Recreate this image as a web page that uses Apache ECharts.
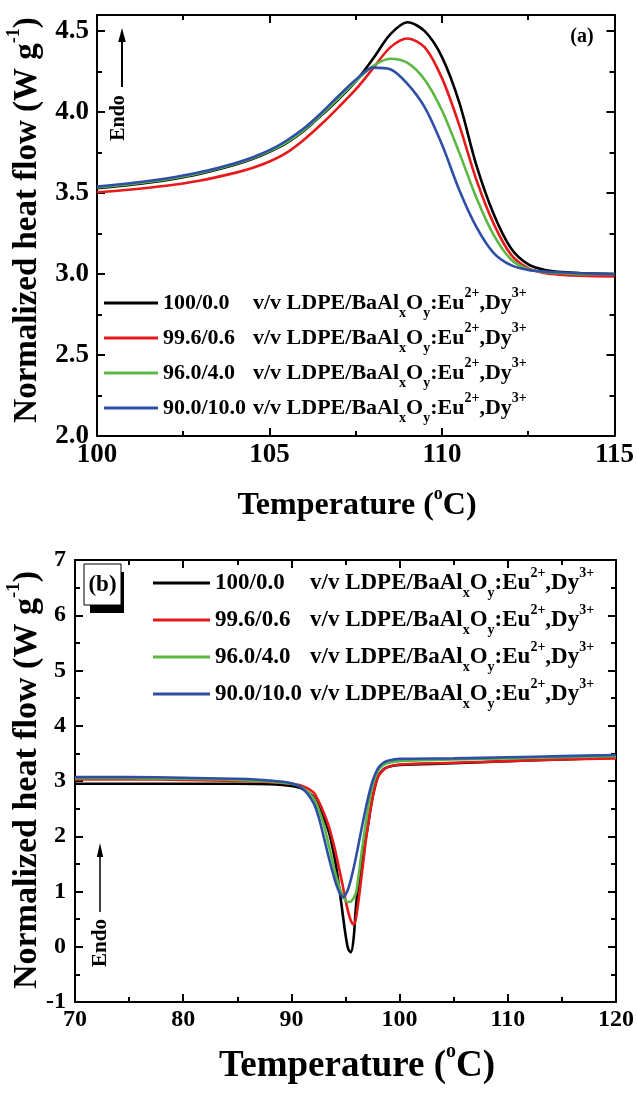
<!DOCTYPE html>
<html>
<head>
<meta charset="utf-8">
<script src="https://cdn.jsdelivr.net/npm/echarts@6/dist/echarts.min.js"></script>
<style>html,body{margin:0;padding:0;background:#fff;}#c{width:637px;height:1096px;}</style>
</head>
<body>
<div id="c"></div>
<script>
// ---------- DATA ----------
const seriesNames = ['100/0.0', '99.6/0.6', '96.0/4.0', '90.0/10.0'];
const seriesColors = ['#000000', '#e8191b', '#5cb843', '#2f4fa6'];

// Panel (a): heating, 100-115 °C
const tempsA = [100, 101, 102, 103, 104, 104.5, 105, 105.5, 106, 106.5, 107, 107.5, 108, 108.5, 109, 109.5, 110, 110.5, 111, 111.5, 112, 112.5, 113, 113.5, 114, 115];
const blackA = [3.53, 3.552, 3.58, 3.62, 3.675, 3.71, 3.755, 3.81, 3.885, 3.98, 4.08, 4.19, 4.33, 4.48, 4.555, 4.50, 4.34, 4.06, 3.67, 3.37, 3.16, 3.06, 3.025, 3.012, 3.006, 3.0];
const redA   = [3.505, 3.522, 3.545, 3.578, 3.625, 3.655, 3.695, 3.75, 3.83, 3.925, 4.03, 4.14, 4.27, 4.40, 4.455, 4.40, 4.21, 3.92, 3.58, 3.31, 3.12, 3.035, 3.005, 2.995, 2.99, 2.985];
const greenA = [3.535, 3.557, 3.585, 3.625, 3.68, 3.715, 3.76, 3.815, 3.89, 3.985, 4.085, 4.19, 4.285, 4.33, 4.305, 4.20, 4.01, 3.75, 3.47, 3.24, 3.09, 3.03, 3.012, 3.005, 3.0, 3.0];
const blueA  = [3.54, 3.562, 3.59, 3.63, 3.685, 3.72, 3.765, 3.825, 3.90, 3.995, 4.10, 4.20, 4.275, 4.265, 4.175, 4.03, 3.80, 3.52, 3.29, 3.13, 3.055, 3.025, 3.015, 3.01, 3.005, 3.0];

// Panel (b): cooling, 70-120 °C
const tempsB = [70, 75, 80, 85, 88, 90, 91, 92, 92.5, 93, 93.5, 94, 94.25, 94.5, 94.75, 95, 95.25, 95.5, 95.75, 96, 96.5, 97, 97.5, 98, 98.5, 99, 100, 105, 110, 115, 120];
const blackB = [2.95, 2.95, 2.95, 2.95, 2.94, 2.91, 2.86, 2.72, 2.55, 2.33, 2.05, 1.60, 1.30, 0.95, 0.58, 0.22, -0.04, -0.10, 0.15, 0.80, 1.55, 2.10, 2.70, 3.08, 3.21, 3.26, 3.29, 3.32, 3.36, 3.39, 3.42];
const redB   = [3.03, 3.03, 3.02, 3.00, 2.98, 2.95, 2.91, 2.80, 2.64, 2.42, 2.15, 1.78, 1.56, 1.33, 1.10, 0.85, 0.63, 0.47, 0.40, 0.55, 1.30, 2.10, 2.70, 3.07, 3.20, 3.26, 3.30, 3.33, 3.36, 3.39, 3.41];
const greenB = [3.05, 3.05, 3.04, 3.02, 2.99, 2.95, 2.88, 2.70, 2.50, 2.20, 1.80, 1.38, 1.20, 1.04, 0.92, 0.84, 0.81, 0.82, 0.88, 1.00, 1.72, 2.40, 2.92, 3.18, 3.29, 3.33, 3.36, 3.39, 3.41, 3.43, 3.45];
const blueB  = [3.07, 3.07, 3.06, 3.04, 3.01, 2.96, 2.87, 2.62, 2.36, 1.98, 1.58, 1.22, 1.07, 0.96, 0.90, 0.94, 1.05, 1.22, 1.42, 1.65, 2.15, 2.62, 3.00, 3.23, 3.33, 3.37, 3.40, 3.41, 3.43, 3.45, 3.47];

const xTicksA = {min: 100, max: 115, interval: 5};
const yTicksA = {min: 2.0, max: 4.6, interval: 0.5, minor: 0.25};
const xTicksB = {min: 70, max: 120, interval: 10};
const yTicksB = {min: -1, max: 7, interval: 1};

// ---------- BUILD ----------
const FONT = "'Liberation Serif','Times New Roman',serif";
const zip = (xs, ys) => xs.map((x, i) => [x, ys[i]]);
const valsA = [blackA, redA, greenA, blueA];
const valsB = [blackB, redB, greenB, blueB];

const tickStyle = (len) => ({show: true, inside: true, length: len, lineStyle: {color: '#000', width: 2}});
const lineStyleAx = {show: true, onZero: false, lineStyle: {color: '#000', width: 2}};

function xAxisDef(grid, pos, t, showLabel, fontSize) {
  return {
    type: 'value', gridIndex: grid, position: pos, min: t.min, max: t.max, interval: t.interval,
    axisLine: lineStyleAx, axisTick: tickStyle(8),
    minorTick: {show: true, splitNumber: 2, length: 5, lineStyle: {color: '#000', width: 2}},
    splitLine: {show: false}, minorSplitLine: {show: false},
    axisLabel: {show: showLabel, color: '#000', fontFamily: FONT, fontWeight: 'bold', fontSize: fontSize, margin: 6}
  };
}

const xAxes = [
  xAxisDef(0, 'bottom', xTicksA, true, 27),
  xAxisDef(0, 'top', xTicksA, false, 27),
  xAxisDef(1, 'bottom', xTicksB, true, 24),
  xAxisDef(1, 'top', xTicksB, false, 24)
];

function yA(pos, interval, len, label, line) {
  return {
    type: 'value', gridIndex: 0, position: pos, min: yTicksA.min, max: yTicksA.max, interval: interval,
    axisLine: line ? lineStyleAx : {show: false}, axisTick: tickStyle(len),
    splitLine: {show: false},
    axisLabel: {show: label, showMaxLabel: false, color: '#000', fontFamily: FONT, fontWeight: 'bold', fontSize: 27, margin: 8,
      formatter: v => v.toFixed(1)}
  };
}
function yB(pos, label) {
  return {
    type: 'value', gridIndex: 1, position: pos, min: yTicksB.min, max: yTicksB.max, interval: yTicksB.interval,
    axisLine: lineStyleAx, axisTick: tickStyle(8),
    minorTick: {show: true, splitNumber: 2, length: 5, lineStyle: {color: '#000', width: 2}},
    splitLine: {show: false}, minorSplitLine: {show: false},
    axisLabel: {show: label, color: '#000', fontFamily: FONT, fontWeight: 'bold', fontSize: 24, margin: 9}
  };
}
const yAxes = [
  yA('left', yTicksA.minor, 5, false, false),   // 0 minor left
  yA('left', yTicksA.interval, 8, true, true),   // 1 major left
  yA('right', yTicksA.minor, 5, false, false),  // 2 minor right
  yA('right', yTicksA.interval, 8, false, true), // 3 major right
  yB('left', true),                              // 4
  yB('right', false)                             // 5
];

const series = [];
seriesNames.forEach((n, i) => {
  series.push({type: 'line', name: n, xAxisIndex: 0, yAxisIndex: 1, data: zip(tempsA, valsA[i]),
    showSymbol: false, symbol: 'none', smooth: 0.3, color: seriesColors[i],
    lineStyle: {color: seriesColors[i], width: 2.6}, silent: true, z: 3 + i});
});
seriesNames.forEach((n, i) => {
  series.push({type: 'line', name: n, xAxisIndex: 2, yAxisIndex: 4, data: zip(tempsB, valsB[i]),
    showSymbol: false, symbol: 'none', smooth: 0.3, color: seriesColors[i],
    lineStyle: {color: seriesColors[i], width: 2.6}, silent: true, z: 3 + i});
});

function legendRich(fs, wA, lh) {
  const base = {fontFamily: FONT, fontWeight: 'bold', color: '#000', fontSize: fs, lineHeight: lh};
  return {
    a: Object.assign({}, base, {width: wA}),
    b: Object.assign({}, base),
    s: Object.assign({}, base, {fontSize: Math.round(fs * 0.62), verticalAlign: 'bottom'}),
    p: Object.assign({}, base, {fontSize: Math.round(fs * 0.62), verticalAlign: 'top'})
  };
}
const legendFmt = name => `{a|${name}}{b|v/v LDPE/BaAl}{s|x}{b|O}{s|y}{b|:Eu}{p|2+}{b|,Dy}{p|3+}`;

const legends = [
  {data: seriesNames, orient: 'vertical', left: 104, top: 286, padding: 0, itemGap: 1, itemWidth: 54, itemHeight: 3,
    icon: 'rect', selectedMode: false, formatter: legendFmt, textStyle: {rich: legendRich(22, 90, 34)}},
  {data: seriesNames, orient: 'vertical', left: 153, top: 566, padding: 0, itemGap: 3, itemWidth: 57, itemHeight: 3,
    icon: 'rect', selectedMode: false, formatter: legendFmt, textStyle: {rich: legendRich(23, 95, 34)}}
];

function titleRich(fs) {
  return {
    t: {fontFamily: FONT, fontWeight: 'bold', fontSize: fs, fill: '#000', lineHeight: fs * 1.3},
    u: {fontFamily: FONT, fontWeight: 'bold', fontSize: Math.round(fs * 0.55), fill: '#000', lineHeight: fs * 1.3, verticalAlign: 'top'}
  };
}
function txt(x, y, text, fs, rot) {
  return {type: 'text', x: x, y: y, rotation: rot || 0, silent: true,
    style: {text: text, rich: titleRich(fs), align: 'center', verticalAlign: 'middle', fill: '#000'}};
}

const graphic = [
  // axis titles
  txt(357, 506, '{t|Temperature (}{u|o}{t|C)}', 32),
  txt(357, 1066, '{t|Temperature (}{u|o}{t|C)}', 37),
  txt(27, 220, '{t|Normalized heat flow (W g}{u|-1}{t|)}', 33, Math.PI / 2),
  txt(27, 780, '{t|Normalized heat flow (W g}{u|-1}{t|)}', 34, Math.PI / 2),
  // panel labels
  {type: 'text', x: 582, y: 37, silent: true, style: {text: '(a)', font: `bold 20px ${FONT}`, fill: '#000', align: 'center', verticalAlign: 'middle'}},
  {type: 'rect', silent: true, shape: {x: 90, y: 572, width: 34, height: 41}, style: {fill: '#000'}},
  {type: 'rect', silent: true, shape: {x: 84, y: 564, width: 37, height: 41}, style: {fill: '#fff', stroke: '#000', lineWidth: 1}},
  {type: 'text', x: 102.5, y: 585, silent: true, style: {text: '(b)', font: `bold 23px ${FONT}`, fill: '#000', align: 'center', verticalAlign: 'middle'}},
  // Endo arrow (a)
  {type: 'line', silent: true, shape: {x1: 122, y1: 87, x2: 122, y2: 38}, style: {stroke: '#000', lineWidth: 2}},
  {type: 'polygon', silent: true, shape: {points: [[122, 28], [118.2, 42], [125.8, 42]]}, style: {fill: '#000'}},
  {type: 'text', x: 119, y: 118, rotation: Math.PI / 2, silent: true, style: {text: 'Endo', font: `bold 20px ${FONT}`, fill: '#000', align: 'center', verticalAlign: 'middle'}},
  // Endo arrow (b)
  {type: 'line', silent: true, shape: {x1: 100, y1: 912, x2: 100, y2: 852}, style: {stroke: '#000', lineWidth: 1.5}},
  {type: 'polygon', silent: true, shape: {points: [[100, 843], [96.8, 857], [103.2, 857]]}, style: {fill: '#000'}},
  {type: 'text', x: 101, y: 943, rotation: Math.PI / 2, silent: true, style: {text: 'Endo', font: `bold 21px ${FONT}`, fill: '#000', align: 'center', verticalAlign: 'middle'}}
];

const chart = echarts.init(document.getElementById('c'), null, {renderer: 'canvas'});
chart.setOption({
  animation: false,
  backgroundColor: '#fff',
  grid: [
    {left: 97, top: 15, width: 518, height: 421, containLabel: false},
    {left: 75, top: 560, width: 542, height: 442, containLabel: false}
  ],
  xAxis: xAxes,
  yAxis: yAxes,
  legend: legends,
  series: series,
  graphic: graphic
});
</script>
</body>
</html>
